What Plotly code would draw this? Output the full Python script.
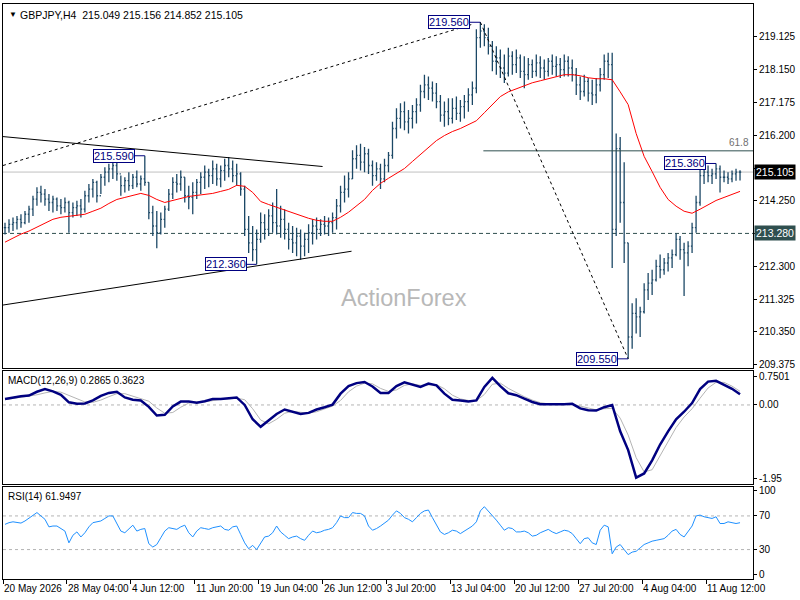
import plotly.graph_objects as go
from plotly.subplots import make_subplots

# GBPJPY H4, one value per 8 hours (two H4 bars merged)
high = [213.60, 213.70, 213.75, 213.80, 213.85, 213.95, 214.10, 214.40, 214.65, 214.70,
        214.60, 214.45, 214.40, 214.35, 214.30, 214.35, 214.25, 214.20, 214.25, 214.30,
        214.55, 214.75, 214.90, 214.85, 215.05, 215.25, 215.35, 215.45, 215.40, 215.00,
        214.95, 215.10, 215.05, 215.15, 215.00, 215.59, 214.80, 214.10, 213.95, 213.90,
        214.10, 214.60, 214.95, 215.05, 215.15, 214.95, 214.70, 214.80, 214.90, 215.10,
        215.30, 215.20, 215.45, 215.35, 215.30, 215.50, 215.55, 215.45, 215.35, 215.10,
        214.70, 213.80, 213.50, 213.40, 213.90, 213.85, 214.00, 214.20, 214.60, 214.10,
        214.00, 213.60, 213.50, 213.45, 213.40, 213.30, 213.55, 213.70, 213.75, 213.70,
        213.80, 213.75, 213.90, 214.30, 214.70, 215.00, 215.10, 215.75, 215.90, 215.95,
        215.85, 215.80, 215.45, 215.40, 215.35, 215.50, 215.70, 216.60, 217.00, 217.15,
        217.20, 216.95, 217.10, 217.30, 217.70, 218.00, 217.95, 217.80, 217.75, 217.40,
        217.20, 217.30, 217.30, 217.35, 217.25, 217.40, 217.60, 217.80, 219.35, 219.56,
        219.50, 219.40, 219.00, 218.85, 218.75, 218.60, 218.80, 218.70, 218.75, 218.60,
        218.55, 218.50, 218.45, 218.60, 218.55, 218.45, 218.50, 218.60, 218.55, 218.50,
        218.60, 218.55, 218.45, 218.20, 217.95, 218.00, 217.90, 217.85, 217.90, 218.20,
        218.60, 218.65, 218.65, 216.25, 216.15, 215.40, 213.00, 211.20, 211.35, 211.10,
        211.80, 212.10, 212.20, 212.50, 212.65, 212.55, 212.70, 212.80, 213.28, 213.20,
        213.00, 213.05, 213.60, 214.40, 215.20, 215.25, 215.30, 215.20, 215.36, 215.30,
        215.15, 215.10, 215.15, 215.20, 215.156]

low = [213.25, 213.30, 213.35, 213.40, 213.45, 213.55, 213.60, 213.80, 214.10, 214.20,
       214.10, 213.95, 213.90, 213.95, 213.85, 213.90, 213.30, 213.75, 213.80, 213.75,
       213.90, 214.20, 214.35, 214.20, 214.45, 214.70, 214.80, 214.90, 214.85, 214.40,
       214.50, 214.55, 214.60, 214.65, 214.55, 214.70, 213.70, 213.20, 212.84, 213.25,
       213.45, 213.95, 214.30, 214.50, 214.55, 214.20, 214.00, 213.85, 214.30, 214.45,
       214.60, 214.65, 214.75, 214.70, 214.65, 214.85, 214.95, 214.80, 214.70, 214.40,
       213.20, 212.70, 212.45, 212.36, 213.00, 213.10, 213.20, 213.30, 213.25, 213.15,
       213.10, 212.80, 212.70, 212.60, 212.50, 212.60, 212.70, 212.95, 213.10, 213.20,
       213.25, 213.20, 213.30, 213.40, 213.90, 214.20, 214.35, 214.90, 215.20, 215.15,
       215.10, 215.05, 214.70, 214.85, 214.60, 214.80, 215.10, 215.50, 216.10, 216.40,
       216.35, 216.25, 216.40, 216.55, 216.90, 217.30, 217.25, 217.20, 217.00, 216.60,
       216.45, 216.50, 216.55, 216.65, 216.60, 216.70, 216.90, 217.10, 217.45, 218.80,
       218.85, 218.60, 218.10, 218.00, 217.90, 217.75, 217.95, 218.00, 218.05, 217.90,
       217.60, 217.85, 217.90, 217.95, 217.90, 217.85, 217.95, 218.00, 217.95, 217.90,
       217.95, 217.95, 217.80, 217.40, 217.25, 217.35, 217.20, 217.10, 217.15, 217.50,
       217.85, 217.90, 212.25, 213.20, 213.60, 212.40, 209.55, 209.85, 210.30, 210.20,
       210.90, 211.30, 211.45, 211.85, 211.95, 212.05, 212.15, 212.25, 212.60, 212.50,
       211.42, 212.30, 212.70, 213.30, 214.10, 214.75, 214.80, 214.75, 214.90, 214.50,
       214.80, 214.75, 214.80, 214.85, 214.852]

close = [213.45, 213.55, 213.60, 213.70, 213.60, 213.85, 214.00, 214.30, 214.50, 214.45,
         214.30, 214.20, 214.30, 214.10, 214.05, 214.20, 213.90, 214.05, 214.10, 214.00,
         214.40, 214.60, 214.80, 214.40, 214.95, 215.10, 215.20, 215.30, 215.05, 214.70,
         214.85, 214.70, 214.95, 214.75, 214.90, 214.80, 213.90, 213.50, 213.30, 213.70,
         214.00, 214.45, 214.80, 214.75, 214.95, 214.40, 214.35, 214.50, 214.80, 214.95,
         215.10, 215.00, 215.20, 214.90, 215.15, 215.30, 215.20, 215.00, 215.05, 214.60,
         213.40, 213.00, 212.80, 213.10, 213.60, 213.40, 213.80, 213.60, 213.50, 213.70,
         213.40, 213.10, 213.00, 213.20, 212.90, 213.10, 213.30, 213.50, 213.40, 213.55,
         213.50, 213.60, 213.75, 214.10, 214.50, 214.60, 214.90, 215.50, 215.60, 215.40,
         215.65, 215.30, 215.00, 215.20, 214.90, 215.30, 215.60, 216.40, 216.70, 216.90,
         216.60, 216.70, 216.90, 217.10, 217.50, 217.70, 217.60, 217.45, 217.20, 216.80,
         216.90, 216.70, 217.00, 216.85, 217.05, 217.20, 217.40, 217.60, 219.10, 219.30,
         219.10, 218.85, 218.40, 218.50, 218.20, 218.05, 218.55, 218.30, 218.50, 218.10,
         218.00, 218.30, 218.10, 218.35, 218.20, 218.10, 218.40, 218.25, 218.30, 218.15,
         218.40, 218.20, 218.00, 217.70, 217.50, 217.80, 217.45, 217.40, 217.70, 218.00,
         218.40, 218.30, 213.40, 215.80, 214.20, 213.00, 210.20, 210.90, 210.80, 210.95,
         211.60, 211.80, 211.90, 212.30, 212.20, 212.40, 212.55, 212.65, 213.10, 212.80,
         212.70, 212.90, 213.45, 214.20, 215.00, 215.10, 215.00, 215.05, 215.20, 214.95,
         214.95, 214.90, 215.05, 215.10, 215.105]

# red moving average, MACD and signal: one value every second bar
ma = [213.02, 213.14, 213.26, 213.35, 213.46, 213.58, 213.70, 213.76, 213.79, 213.82,
      213.85, 213.94, 214.03, 214.17, 214.29, 214.35, 214.41, 214.47, 214.41, 214.29,
      214.20, 214.26, 214.32, 214.38, 214.41, 214.44, 214.47, 214.53, 214.59, 214.71,
      214.68, 214.50, 214.23, 214.14, 214.06, 213.97, 213.88, 213.82, 213.73, 213.67,
      213.64, 213.64, 213.76, 213.91, 214.09, 214.29, 214.56, 214.77, 214.92, 215.06,
      215.21, 215.42, 215.63, 215.84, 216.04, 216.19, 216.31, 216.40, 216.52, 216.63,
      216.87, 217.11, 217.35, 217.49, 217.58, 217.67, 217.76, 217.82, 217.88, 217.94,
      218.00, 218.00, 217.97, 217.91, 217.88, 217.88, 217.85, 217.49, 217.11, 216.25,
      215.57, 215.12, 214.65, 214.29, 214.09, 213.94, 213.88, 214.00, 214.14, 214.26,
      214.35, 214.44, 214.53]

macd = [0.16, 0.20, 0.23, 0.25, 0.35, 0.42, 0.36, 0.27, 0.07, 0.03,
        0.04, 0.12, 0.24, 0.32, 0.35, 0.20, 0.14, 0.12, -0.05, -0.28,
        -0.26, -0.04, 0.09, 0.09, 0.06, 0.10, 0.16, 0.16, 0.17, 0.20,
        0.00, -0.38, -0.58, -0.42, -0.24, -0.12, -0.18, -0.24, -0.21, -0.12,
        -0.06, 0.01, 0.30, 0.50, 0.58, 0.61, 0.49, 0.32, 0.32, 0.50,
        0.60, 0.53, 0.48, 0.57, 0.52, 0.30, 0.14, 0.12, 0.09, 0.12,
        0.48, 0.72, 0.50, 0.31, 0.26, 0.17, 0.08, 0.02, 0.02, 0.01,
        0.02, 0.03, -0.09, -0.14, -0.15, -0.06, 0.00, -0.70, -1.20, -1.93,
        -1.82, -1.47, -1.05, -0.70, -0.38, -0.18, 0.05, 0.42, 0.62, 0.64,
        0.53, 0.43, 0.2865]

signal = [0.14, 0.17, 0.20, 0.23, 0.27, 0.32, 0.36, 0.34, 0.26, 0.16,
          0.08, 0.07, 0.13, 0.22, 0.30, 0.30, 0.24, 0.18, 0.10, -0.08,
          -0.22, -0.20, -0.06, 0.05, 0.08, 0.08, 0.12, 0.15, 0.16, 0.18,
          0.14, -0.10, -0.40, -0.50, -0.38, -0.22, -0.17, -0.20, -0.22, -0.18,
          -0.10, -0.03, 0.12, 0.35, 0.50, 0.58, 0.56, 0.44, 0.36, 0.40,
          0.52, 0.56, 0.52, 0.53, 0.54, 0.43, 0.26, 0.16, 0.12, 0.11,
          0.28, 0.55, 0.58, 0.44, 0.32, 0.22, 0.13, 0.06, 0.03, 0.02,
          0.02, 0.02, -0.03, -0.10, -0.13, -0.10, -0.09, -0.35, -0.80, -1.40,
          -1.78, -1.72, -1.35, -0.95, -0.60, -0.32, -0.10, 0.18, 0.45, 0.60,
          0.60, 0.50, 0.3623]

rsi = [60, 62, 63, 62, 61.5, 64, 67, 71, 74, 70,
       66, 57, 58, 58, 55, 52, 38, 47, 51, 45,
       50, 57, 62, 63, 64, 67, 70, 70, 60, 52,
       50, 55, 59, 52, 54, 55, 37, 33, 36, 44,
       52, 56, 55, 54, 57, 59, 50, 45, 52, 56,
       55, 54, 56, 57, 58, 54, 53, 57, 58, 48,
       38, 31, 35, 30, 38, 45, 46, 50, 58, 51,
       47, 43, 45, 46, 43, 41, 47, 52, 50, 51,
       53, 54, 56, 62, 70, 68, 68, 74, 73, 73,
       70, 58, 53, 55, 58, 61, 65, 71, 76, 73,
       68, 66, 63, 68, 73, 76, 77, 68, 60, 51,
       48, 50, 53, 52, 49, 52, 55, 58, 63, 76,
       81, 76, 70, 65, 59, 53, 56, 55, 51, 51,
       52, 50, 46, 47, 50, 52, 54, 51, 49, 51,
       53, 52, 49, 43, 37, 43, 44, 38, 36, 53,
       59, 57, 25, 33, 36, 30, 24, 27, 28, 32,
       36, 38, 40, 41, 42, 43, 47, 52, 54, 48,
       45, 52, 58, 70, 71, 69, 68, 67, 69, 61,
       61, 63, 62, 61, 61.9497]

date_labels = ["20 May 2026", "28 May 04:00", "4 Jun 12:00", "11 Jun 20:00",
               "19 Jun 04:00", "26 Jun 12:00", "3 Jul 20:00", "13 Jul 04:00",
               "20 Jul 12:00", "27 Jul 20:00", "4 Aug 04:00", "11 Aug 12:00"]

price_ticks = [209.375, 210.350, 211.325, 212.300, 213.275, 214.250,
               215.225, 216.200, 217.175, 218.150, 219.125]

swing_bars = [35, 63, 119, 156, 178]
swing_prices = [215.590, 212.360, 219.560, 209.550, 215.360]

last_price = 215.105
support = 213.280
fib_618 = 215.736

# drawn trend lines: (bar0, price0, bar1, price1)
solid_lines = [(-0.5, 216.16, 79.5, 215.27), (-0.5, 211.15, 86.75, 212.75)]
dashed_lines = [(-0.5, 215.30, 117.0, 219.50), (119.0, 219.56, 156.0, 209.55)]

BAR = "#1c4866"
FONT = "Liberation Sans"

n = len(high)
bars = list(range(n))
half = bars[::2]
opn = [close[0]] + close[:-1]
x_range = [-0.5, 187.25]

# price labels hidden under the two boxes on the right axis
price_text = ["" if abs(t - last_price) < 0.2 or abs(t - support) < 0.2 else f"{t:.3f}"
              for t in price_ticks]

fig = make_subplots(rows=3, cols=1, shared_xaxes=True, vertical_spacing=0.01)

fig.add_trace(go.Ohlc(x=bars, open=opn, high=high, low=low, close=close,
                      increasing_line_color=BAR, decreasing_line_color=BAR,
                      line_width=1.3, tickwidth=0.3, hoverinfo="skip"),
              row=1, col=1)
fig.add_trace(go.Scatter(x=half, y=ma, mode="lines",
                         line=dict(color="#ff0000", width=1)), row=1, col=1)

fig.add_trace(go.Scatter(x=half, y=signal, mode="lines",
                         line=dict(color="#b4b4b4", width=1)), row=2, col=1)
fig.add_trace(go.Scatter(x=half, y=macd, mode="lines",
                         line=dict(color="#000080", width=2.5)), row=2, col=1)

fig.add_trace(go.Scatter(x=bars, y=rsi, mode="lines",
                         line=dict(color="#1e90ff", width=1)), row=3, col=1)

# level lines
fig.add_hline(y=last_price, line=dict(color="#c0c0c0", width=1), layer="below", row=1, col=1)
fig.add_hline(y=support, line=dict(color="#2f4f4f", width=1, dash="4px,3px"), layer="below", row=1, col=1)
fig.add_shape(type="line", xref="x", yref="y", x0=119.75, x1=x_range[1], y0=fib_618, y1=fib_618,
              line=dict(color="#2f4f4f", width=1))
for x0, y0, x1, y1 in solid_lines:
    fig.add_shape(type="line", xref="x", yref="y", x0=x0, y0=y0, x1=x1, y1=y1,
                  line=dict(color="black", width=1))
for x0, y0, x1, y1 in dashed_lines:
    fig.add_shape(type="line", xref="x", yref="y", x0=x0, y0=y0, x1=x1, y1=y1,
                  line=dict(color="black", width=1, dash="3px,3px"))
fig.add_hline(y=0, line=dict(color="#b4b4b4", width=1, dash="3px,3px"), layer="below", row=2, col=1)
for lv in [70, 30]:
    fig.add_hline(y=lv, line=dict(color="#b4b4b4", width=1, dash="3px,3px"), layer="below", row=3, col=1)

ann = []
ann.append(dict(xref="paper", yref="paper", x=0, y=1, xanchor="left", yanchor="top",
                xshift=4, yshift=-4, text="\u25bc", showarrow=False, font=dict(size=8, color="black")))
ann.append(dict(xref="paper", yref="paper", x=0, y=1, xanchor="left", yanchor="top",
                xshift=15, yshift=-3, showarrow=False, font=dict(size=10.5, color="black"),
                text="GBPJPY,H4\u00a0\u00a0215.049 215.156 214.852 215.105"))
ann.append(dict(xref="x domain", yref="y domain", x=0.534, y=0.15, text="ActionForex",
                showarrow=False, font=dict(size=23.5, color="#b8b8b8", family="Liberation Sans")))
ann.append(dict(xref="x domain", yref="y", x=0.997, y=fib_618, xanchor="right", yanchor="bottom",
                yshift=1, text="61.8", showarrow=False, font=dict(size=10, color="#707070")))
for b, p in zip(swing_bars, swing_prices):
    ann.append(dict(xref="x", yref="y", x=b, y=p, text=f"{p:.3f}", showarrow=True,
                    arrowhead=0, arrowwidth=1, arrowcolor="#000080", ax=-31, ay=0,
                    font=dict(size=11, color="#000080"), bgcolor="white",
                    bordercolor="#000080", borderwidth=1, borderpad=0))
ann.append(dict(xref="paper", yref="y", x=1, y=last_price, xanchor="left", xshift=1,
                text=f"{last_price:.3f}", showarrow=False, bgcolor="black",
                font=dict(size=10.5, color="white"), borderpad=1))
ann.append(dict(xref="paper", yref="y", x=1, y=support, xanchor="left", xshift=1,
                text=f"{support:.3f}", showarrow=False, bgcolor="#2f4f4f",
                font=dict(size=10.5, color="white"), borderpad=1))
ann.append(dict(xref="paper", yref="y2 domain", x=0, y=1, xanchor="left", yanchor="top",
                xshift=3, yshift=-2, showarrow=False, font=dict(size=10, color="black"),
                text="MACD(12,26,9) 0.2865 0.3623"))
ann.append(dict(xref="paper", yref="y3 domain", x=0, y=1, xanchor="left", yanchor="top",
                xshift=3, yshift=-2, showarrow=False, font=dict(size=10, color="black"),
                text="RSI(14) 61.9497"))
label_pos = [16 * k - 0.5 for k in range(len(date_labels))]
for xp, t in zip(label_pos, date_labels):
    ann.append(dict(xref="x3", yref="paper", x=xp, y=0, xanchor="left", yanchor="top",
                    yshift=-2, xshift=-1, text=t, showarrow=False,
                    font=dict(size=10, color="black")))

axis_common = dict(showline=True, linecolor="black", linewidth=1, mirror=True,
                   showgrid=False, zeroline=False)

fig.update_xaxes(range=x_range, showticklabels=False, ticks="", rangeslider_visible=False,
                 **axis_common)
fig.update_xaxes(tickvals=label_pos, ticks="outside", ticklen=4, tickcolor="black", row=3, col=1)

fig.update_yaxes(side="right", ticks="outside", ticklen=3, tickcolor="black",
                 tickfont=dict(size=10, color="black"), **axis_common)
fig.update_yaxes(domain=[0.3674, 1.0], range=[209.285, 220.103], tickvals=price_ticks,
                 ticktext=price_text, row=1, col=1)
fig.update_yaxes(domain=[0.1646, 0.3622], range=[-2.109, 0.909], tickvals=[0.7501, 0.0, -1.95],
                 ticktext=["0.7501", "0.00", "-1.95"], row=2, col=1)
fig.update_yaxes(domain=[0.0, 0.1594], range=[-5, 104], tickvals=[100, 70, 30, 0], row=3, col=1)

fig.update_layout(
    width=800, height=600,
    margin=dict(l=2, r=47, t=2, b=21),
    paper_bgcolor="white", plot_bgcolor="white",
    showlegend=False,
    font=dict(family=FONT, size=10, color="black"),
    annotations=ann,
    hovermode=False,
)

# page body margin would push the 800x600 figure off the window
fig.write_html("out.html", config={"displayModeBar": False},
               post_script="document.body.style.margin = '0px';")
